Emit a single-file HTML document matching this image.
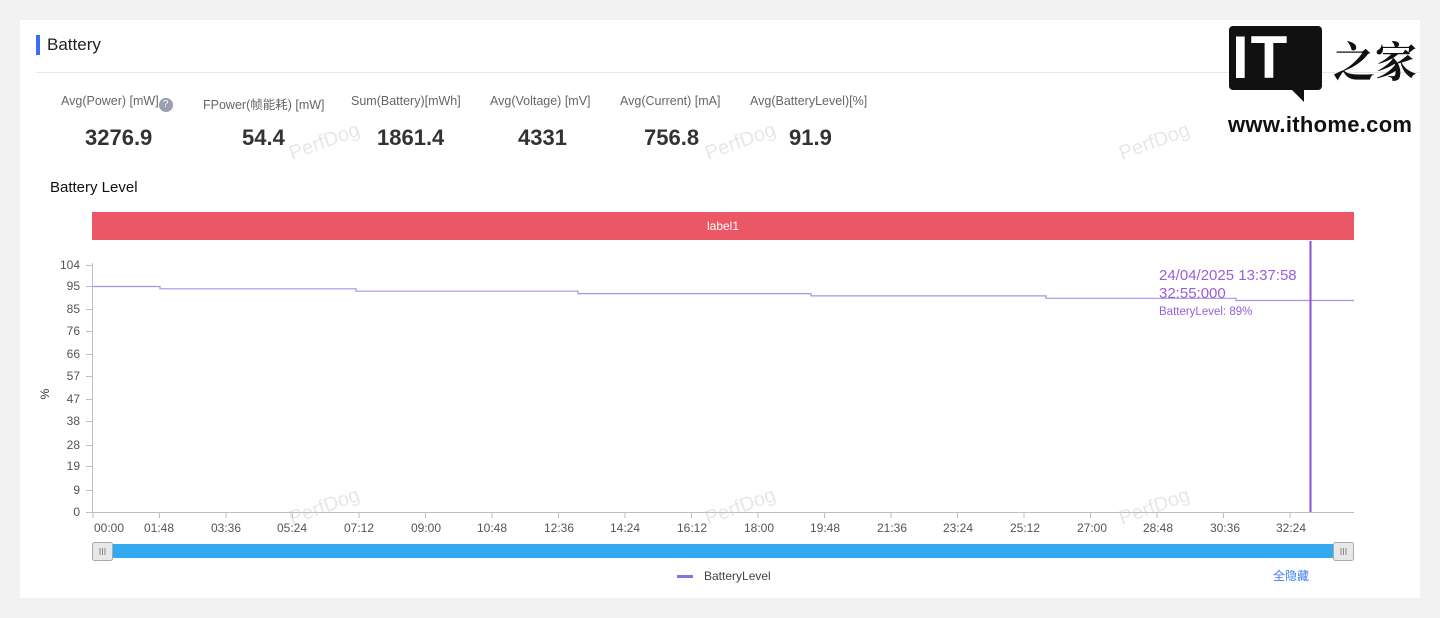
<!DOCTYPE html>
<html><head><meta charset="utf-8"><style>
body{margin:0;width:1440px;height:618px;background:#f2f2f2;font-family:"Liberation Sans","Noto Sans CJK SC",sans-serif;position:relative;overflow:hidden}
.card{position:absolute;left:20px;top:20px;width:1400px;height:578px;background:#fff}
.t{position:absolute;white-space:nowrap}
.lb{font-size:12.5px;color:#666;top:94px}
.v{font-size:22px;font-weight:bold;color:#333;top:125px}
</style></head><body>
<div class="card"></div>
<div class="t" style="left:36px;top:35px;width:4px;height:20px;background:#3b6ef5"></div>
<div class="t" style="left:47px;top:35px;font-size:17px;color:#222">Battery</div>
<div class="t" style="left:36px;top:72px;width:1384px;height:1px;background:#e8e8e8"></div>
<div class="t lb" style="left:61px">Avg(Power) [mW]<span style="display:inline-block;width:14px;height:14px;border-radius:50%;background:#9aa0ad;color:#fff;font-size:10px;text-align:center;line-height:14px;vertical-align:-2px">?</span></div>
<div class="t lb" style="left:203px">FPower(帧能耗) [mW]</div>
<div class="t lb" style="left:351px">Sum(Battery)[mWh]</div>
<div class="t lb" style="left:490px">Avg(Voltage) [mV]</div>
<div class="t lb" style="left:620px">Avg(Current) [mA]</div>
<div class="t lb" style="left:750px">Avg(BatteryLevel)[%]</div>
<div class="t v" style="left:85px">3276.9</div>
<div class="t v" style="left:242px">54.4</div>
<div class="t v" style="left:377px">1861.4</div>
<div class="t v" style="left:518px">4331</div>
<div class="t v" style="left:644px">756.8</div>
<div class="t v" style="left:789px">91.9</div>
<div class="t" style="left:50px;top:179px;font-size:15px;color:#111">Battery Level</div>
<div class="t" style="left:92px;top:212px;width:1262px;height:28px;background:#ec5766;color:#fff;font-size:12px;text-align:center;line-height:28px">label1</div>
<!-- logo -->
<div class="t" style="left:1229px;top:26px;width:93px;height:64px;background:#111;border-radius:4px"></div>
<div class="t" style="left:1232px;top:25px;font-size:60px;font-weight:bold;color:#fff;letter-spacing:2px;line-height:66px">IT</div>
<div class="t" style="left:1290px;top:88px;width:0;height:0;border-left:14px solid transparent;border-top:14px solid #111"></div>
<div class="t" style="left:1333px;top:30px;font-size:42px;font-weight:bold;color:#111;font-family:'Noto Serif CJK SC',serif">之家</div>
<div class="t" style="left:1228px;top:112px;font-size:22px;font-weight:bold;color:#111;letter-spacing:0.3px">www.ithome.com</div>
<svg class="t" style="left:0;top:0" width="1440" height="618">
<g fill="#ddd" font-size="20" font-family="Liberation Sans" opacity="0.7">
<text transform="translate(292,160) rotate(-20)">PerfDog</text>
<text transform="translate(708,160) rotate(-20)">PerfDog</text>
<text transform="translate(1122,160) rotate(-20)">PerfDog</text>
<text transform="translate(292,525) rotate(-20)">PerfDog</text>
<text transform="translate(708,525) rotate(-20)">PerfDog</text>
<text transform="translate(1122,525) rotate(-20)">PerfDog</text>
</g>
<g stroke="#b8c0cc" stroke-width="1">
<line x1="92.5" y1="263" x2="92.5" y2="513"/>
<line x1="92" y1="512.5" x2="1354" y2="512.5"/>
</g>
<g font-size="12" fill="#555" text-anchor="end" font-family="Liberation Sans">
<text x="80" y="269">104</text><text x="80" y="290">95</text><text x="80" y="313">85</text><text x="80" y="335">76</text><text x="80" y="358">66</text><text x="80" y="380">57</text><text x="80" y="403">47</text><text x="80" y="425">38</text><text x="80" y="449">28</text><text x="80" y="470">19</text><text x="80" y="494">9</text><text x="80" y="516">0</text>
</g>
<g stroke="#b8c0cc"><path d="M86 265.5h6M86 286.5h6M86 309.5h6M86 331.5h6M86 354.5h6M86 376.5h6M86 399.5h6M86 421.5h6M86 445.5h6M86 466.5h6M86 490.5h6M86 512.5h6"/></g>
<text x="49" y="394" font-size="12" fill="#333" transform="rotate(-90 49 394)" text-anchor="middle">%</text>
<g font-size="12" fill="#555" text-anchor="middle">
<text x="109" y="532">00:00</text><text x="159" y="532">01:48</text><text x="226" y="532">03:36</text><text x="292" y="532">05:24</text><text x="359" y="532">07:12</text><text x="426" y="532">09:00</text><text x="492" y="532">10:48</text><text x="559" y="532">12:36</text><text x="625" y="532">14:24</text><text x="692" y="532">16:12</text><text x="759" y="532">18:00</text><text x="825" y="532">19:48</text><text x="892" y="532">21:36</text><text x="958" y="532">23:24</text><text x="1025" y="532">25:12</text><text x="1092" y="532">27:00</text><text x="1158" y="532">28:48</text><text x="1225" y="532">30:36</text><text x="1291" y="532">32:24</text>
</g>
<g stroke="#b8c0cc"><path d="M93 513v5M159.5 513v5M226 513v5M292.5 513v5M359 513v5M425.5 513v5M492 513v5M558.5 513v5M625 513v5M691.5 513v5M758 513v5M824.5 513v5M891 513v5M957.5 513v5M1024 513v5M1090.5 513v5M1157 513v5M1223.5 513v5M1290 513v5"/></g>
<path d="M93 286.5H160V288.8H356V291.2H578V293.6H811V295.9H1046V298.3H1236V300.5H1354" fill="none" stroke="#a993e6" stroke-width="1.2"/>
<line x1="1310.5" y1="241" x2="1310.5" y2="512" stroke="#8a4fd6" stroke-width="2"/>
<g fill="#9a5fd8" font-family="Liberation Sans">
<text x="1159" y="280" font-size="15">24/04/2025 13:37:58</text>
<text x="1159" y="298" font-size="15">32:55:000</text>
<text x="1159" y="315" font-size="11.5">BatteryLevel: 89%</text>
</g>
<rect x="100" y="544" width="1243" height="14" fill="#33aaf0"/>
<rect x="92.5" y="542.5" width="20" height="18" rx="2" fill="#e8e8e8" stroke="#aaa"/>
<rect x="1333.5" y="542.5" width="20" height="18" rx="2" fill="#e8e8e8" stroke="#aaa"/>
<g stroke="#888"><path d="M100 548v7M102.5 548v7M105 548v7M1341 548v7M1343.5 548v7M1346 548v7"/></g>
<rect x="677" y="575" width="16" height="3" fill="#8a70e0"/>
<text x="704" y="580" font-size="12" fill="#444">BatteryLevel</text>
<text x="1273" y="580" font-size="12" fill="#3b7ef5" font-family="Liberation Sans,Noto Sans CJK SC">全隐藏</text>
</svg>
</body></html>
